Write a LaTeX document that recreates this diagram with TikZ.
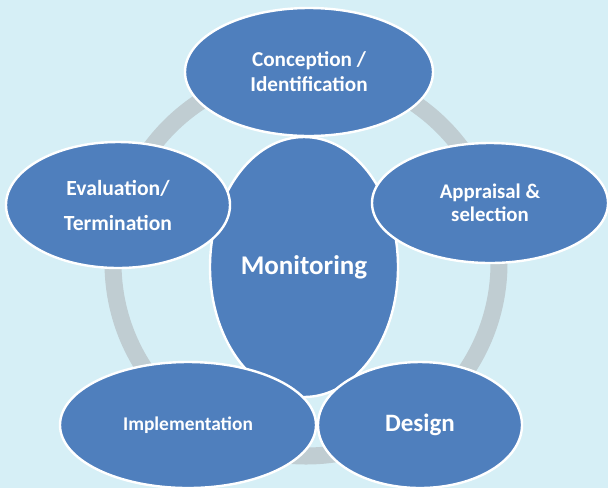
\documentclass[tikz,border=0pt]{standalone}
\usepackage{fontspec}
\setmainfont{Carlito}
\usepackage{tikz}
\usetikzlibrary{shapes.geometric}
\definecolor{bgblue}{HTML}{D6EFF6}
\definecolor{bubbleblue}{HTML}{4F7FBD}
\definecolor{ringgrey}{HTML}{C0CDD2}

\begin{document}
\begin{tikzpicture}[x=0.5pt,y=-0.5pt,
    bubble/.style={ellipse, draw=white, line width=1.2pt, fill=bubbleblue,
      text=white, align=center, inner sep=0pt}]
                % background and ring
                \fill[bgblue] (0,0) rectangle (608,488);
                \useasboundingbox (0,0) rectangle (608,488);
                \draw[ringgrey, line width=8.5pt] (306,263) circle[radius=96.5pt];
                
                % centre
                \node[bubble, minimum width=94pt, minimum height=130pt,
                  font=\bfseries\fontsize{13.5}{16}\selectfont] (monitor) at (304,267) {Monitoring};
                
                % stages round the ring
                \node[bubble, minimum width=124pt, minimum height=64pt,
                  font=\bfseries\fontsize{10.6}{12.5}\selectfont] (concept) at (309,72) {Conception /\\Identification};
                \node[bubble, minimum width=118pt, minimum height=60pt,
                  font=\bfseries\fontsize{10.4}{11.5}\selectfont] (appraise) at (490,203) {Appraisal \&\\selection};
                \node[bubble, minimum width=112pt, minimum height=63pt,
                  font=\bfseries\fontsize{10.8}{17.5}\selectfont] (evaluate) at (118,205) {Evaluation/\\Termination};
                \node[bubble, minimum width=128pt, minimum height=63pt,
                  font=\bfseries\fontsize{9.7}{12}\selectfont] (implement) at (188,425) {Implementation};
                \node[bubble, minimum width=102pt, minimum height=63pt,
                  font=\bfseries\fontsize{12.5}{15}\selectfont] (design) at (420,425) {Design};
            \end{tikzpicture}
\end{document}
